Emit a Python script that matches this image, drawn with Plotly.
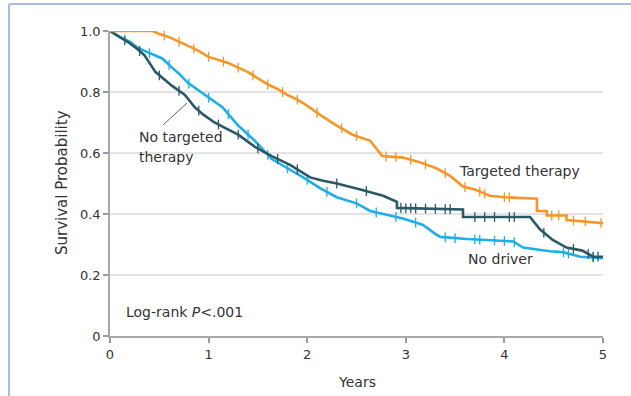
import numpy as np
import plotly.graph_objects as go

# ---- data (Kaplan-Meier estimates) ----
tt_time = [0, 0.43, 0.5, 0.6, 0.7, 0.8, 0.9, 1.0, 1.1, 1.2, 1.3, 1.4, 1.5, 1.6, 1.7, 1.8,
           1.9, 2.0, 2.13, 2.3, 2.46, 2.64, 2.76, 2.97, 3.14, 3.31, 3.45, 3.58, 3.7, 3.85,
           4.0, 4.33, 4.33, 4.43, 4.43, 4.63, 4.63, 4.85, 5.0]
tt_surv = [1.0, 1.0, 0.99, 0.98, 0.965, 0.95, 0.935, 0.915, 0.905, 0.895, 0.88, 0.865, 0.845,
           0.825, 0.81, 0.79, 0.775, 0.755, 0.725, 0.69, 0.66, 0.64, 0.59, 0.585, 0.57, 0.55,
           0.525, 0.49, 0.48, 0.46, 0.455, 0.45, 0.41, 0.41, 0.395, 0.395, 0.38, 0.375, 0.37]
tt_cens = [0.55, 0.7, 0.85, 1.0, 1.15, 1.3, 1.45, 1.6, 1.75, 1.9,
           2.1, 2.35, 2.5, 2.8, 2.9, 3.05, 3.2, 3.4, 3.6, 3.75, 3.8, 4.0, 4.05, 4.48, 4.55,
           4.7, 4.82, 4.98]

nt_time = [0, 0.1, 0.2, 0.28, 0.35, 0.46, 0.55, 0.63, 0.76, 0.86, 0.95, 1.06, 1.18, 1.3,
           1.47, 1.64, 1.83, 2.03, 2.15, 2.3, 2.54, 2.77, 2.91, 2.91, 3.58, 3.58, 4.26, 4.36,
           4.49, 4.63, 4.79, 4.9, 5.0]
nt_surv = [1.0, 0.98, 0.96, 0.94, 0.92, 0.866, 0.84, 0.82, 0.79, 0.75, 0.725, 0.70, 0.68,
           0.66, 0.62, 0.59, 0.56, 0.52, 0.51, 0.50, 0.48, 0.46, 0.44, 0.42, 0.415, 0.39, 0.39,
           0.35, 0.315, 0.29, 0.28, 0.26, 0.26]
nt_cens = [0.15, 0.3, 0.5, 0.7, 0.9, 1.1, 1.3, 1.5, 1.7, 1.9,
           2.3, 2.6, 2.95, 3.0, 3.05, 3.1, 3.2, 3.3, 3.4, 3.45, 3.7, 3.8, 3.9, 4.05, 4.1,
           4.4, 4.7, 4.85, 4.9, 4.95]

nd_time = [0, 0.1, 0.2, 0.28, 0.35, 0.45, 0.53, 0.63, 0.7, 0.79, 0.88, 0.96, 1.05, 1.14,
           1.22, 1.3, 1.47, 1.64, 1.8, 1.96, 2.13, 2.3, 2.5, 2.64, 2.97, 3.17, 3.3, 3.35,
           3.62, 4.09, 4.19, 4.46, 4.59, 4.77, 5.0]
nd_surv = [1.0, 0.98, 0.965, 0.945, 0.935, 0.92, 0.91, 0.88, 0.86, 0.83, 0.81, 0.79, 0.77,
           0.75, 0.72, 0.69, 0.64, 0.58, 0.55, 0.52, 0.485, 0.455, 0.435, 0.41, 0.385, 0.365,
           0.335, 0.325, 0.318, 0.31, 0.29, 0.278, 0.275, 0.26, 0.255]
nd_cens = [0.4, 0.6, 0.8, 1.0, 1.2, 1.4, 1.6, 1.8, 2.0, 2.2,
           2.5, 2.7, 2.9, 3.1, 3.4, 3.5, 3.7, 3.75, 3.9, 4.0, 4.1, 4.6, 4.65, 4.9]

x_ticks = [0, 1, 2, 3, 4, 5]
y_ticks = [0, 0.2, 0.4, 0.6, 0.8, 1.0]
y_tick_labels = ["0", "0.2", "0.4", "0.6", "0.8", "1.0"]

# ---- styling ----
C_TT = "#f5962a"
C_NT = "#2a5868"
C_ND = "#1eaee8"
FONT = "DejaVu Sans"
TXT = "#333333"

W, H = 631, 396
L, R, T, B = 110, 28, 31, 60
PW, PH = W - L - R, H - T - B


def px(x):
    return (x - L) / PW


def py(y):
    return (H - B - y) / PH


def surv_at(times, surv, cens):
    return list(np.interp(np.array(cens), np.array(times), np.array(surv)))


fig = go.Figure()
for t, s, c, col in [(nd_time, nd_surv, nd_cens, C_ND),
                     (nt_time, nt_surv, nt_cens, C_NT),
                     (tt_time, tt_surv, tt_cens, C_TT)]:
    fig.add_trace(go.Scatter(x=t, y=s, mode="lines", line=dict(color=col, width=2.6),
                             cliponaxis=False, showlegend=False, hoverinfo="skip"))
    fig.add_trace(go.Scatter(x=c, y=surv_at(t, s, c), mode="markers",
                             marker=dict(symbol="line-ns", size=7, line=dict(color=col, width=1.3)),
                             cliponaxis=False, showlegend=False, hoverinfo="skip"))

ann = [
    dict(text="No targeted", x=px(137), y=py(137), xanchor="left", yanchor="middle"),
    dict(text="therapy", x=px(137), y=py(157), xanchor="left", yanchor="middle"),
    dict(text="Targeted therapy", x=px(457), y=py(171), xanchor="left", yanchor="middle"),
    dict(text="No driver", x=px(466), y=py(259), xanchor="left", yanchor="middle"),
    dict(text="Log-rank <i>P</i>&lt;.001", x=px(124), y=py(312), xanchor="left", yanchor="middle"),
    dict(text="Years", x=px(357), y=py(382), xanchor="center", yanchor="middle"),
    dict(text="Survival Probability", x=px(62), y=py(183), xanchor="center", yanchor="middle",
         textangle=-90, font=dict(family=FONT, size=15, color=TXT)),
]
for a in ann:
    a.setdefault("font", dict(family=FONT, size=14, color=TXT))
    fig.add_annotation(xref="paper", yref="paper", showarrow=False, **a)

shapes = [
    dict(type="line", xref="paper", yref="paper", x0=px(163), y0=py(125), x1=px(187), y1=py(103),
         line=dict(color="#666666", width=1)),
    dict(type="line", xref="paper", yref="paper", x0=px(9), y0=py(4), x1=px(640), y1=py(4),
         line=dict(color="#a4bde0", width=2)),
    dict(type="line", xref="paper", yref="paper", x0=px(9), y0=py(4), x1=px(9), y1=py(400),
         line=dict(color="#a4bde0", width=2)),
]
fig.update_layout(shapes=shapes)

fig.update_layout(
    width=W, height=H,
    margin=dict(l=L, r=R, t=T, b=B, pad=0),
    paper_bgcolor="white", plot_bgcolor="white",
    font=dict(family=FONT, size=13, color=TXT),
    xaxis=dict(range=[0, 5], tickvals=x_ticks, ticks="outside", ticklen=5, tickcolor="#999999",
               tickwidth=1.5, showgrid=False, zeroline=False, showline=True, linecolor="#a8a8a8",
               linewidth=2, tickfont=dict(family=FONT, size=13, color=TXT)),
    yaxis=dict(range=[0, 1], tickvals=y_ticks, ticktext=y_tick_labels, ticks="outside", ticklen=5,
               tickcolor="#999999", tickwidth=1.5, showgrid=True, gridcolor="#e4e4e4", gridwidth=2,
               zeroline=False, showline=True, linecolor="#a8a8a8", linewidth=1.5,
               tickfont=dict(family=FONT, size=13, color=TXT)),
)

fig.write_html("out.html", config={"displayModeBar": False},
               post_script="document.body.style.margin='0px';")
